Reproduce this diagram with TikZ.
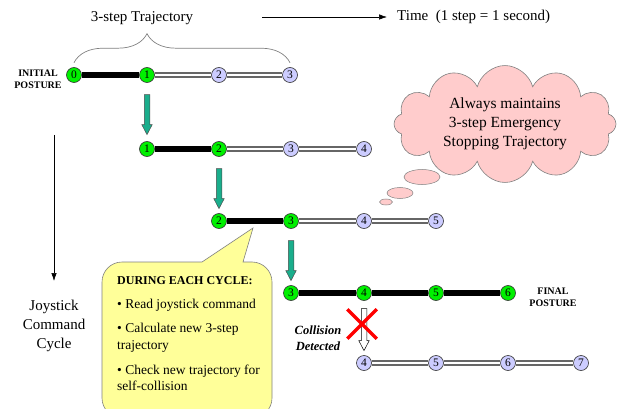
\documentclass[tikz,border=0pt]{standalone}
\usepackage{fontspec}
\setmainfont{Liberation Serif}
\usetikzlibrary{shapes.symbols,shapes.arrows,shapes.misc,shapes.geometric,decorations.pathreplacing,arrows.meta,backgrounds}
\definecolor{nodegreen}{HTML}{00F000}
\definecolor{lav}{HTML}{CCCCFF}
\definecolor{tealarrow}{HTML}{1AAE8C}
\definecolor{cloudpink}{HTML}{FFCCCC}
\definecolor{calloutyellow}{HTML}{FFFF99}
\begin{document}
\begin{tikzpicture}[x=1pt,y=-1pt,
  pt/.style={circle, draw=black!80, line width=0.6pt, minimum size=15pt, inner sep=0pt, font=\fontsize{11.5}{12}\selectfont},
  done/.style={pt, fill=nodegreen},
  plan/.style={pt, fill=lav},
  hardline/.style={line width=5.5pt, black},
  planline/.style={draw=white, line width=2.8pt, preaction={draw=black!60, line width=5.4pt}},
  stepdown/.style={single arrow, draw=black!70, line width=0.5pt, fill=tealarrow, rotate=-90, minimum height=40pt, inner sep=2.5pt, single arrow head extend=2.5pt, single arrow tip angle=55},
  thin arrow/.style={line width=0.6pt, -{Latex[length=8pt,width=5.5pt]}},
  bigtext/.style={font=\fontsize{15}{19}\selectfont},
  posture/.style={align=center, font=\bfseries\fontsize{10}{12}\selectfont},
  bubble/.style={ellipse, draw=gray, line width=0.5pt, fill=cloudpink, inner sep=0pt},
  calltext/.style={anchor=base west, inner sep=0pt, font=\fontsize{13.5}{17}\selectfont}
]
\clip (0,0) rectangle (621,409);

% ---- trajectory nodes
\node[done] (r1n0) at (74,75) {0};
\node[done] (r1n1) at (147,75) {1};
\node[plan] (r1n2) at (219,75) {2};
\node[plan] (r1n3) at (290,75) {3};

\node[done] (r2n1) at (147,149) {1};
\node[done] (r2n2) at (219,149) {2};
\node[plan] (r2n3) at (291,149) {3};
\node[plan] (r2n4) at (364,149) {4};

\node[done] (r3n2) at (219,221) {2};
\node[done] (r3n3) at (291,221) {3};
\node[plan] (r3n4) at (364,221) {4};
\node[plan] (r3n5) at (436,221) {5};

\node[done] (r4n3) at (291,293) {3};
\node[done] (r4n4) at (364,293) {4};
\node[done] (r4n5) at (436,293) {5};
\node[done] (r4n6) at (508,293) {6};

\node[plan] (r5n4) at (364,363) {4};
\node[plan] (r5n5) at (436,363) {5};
\node[plan] (r5n6) at (508,363) {6};
\node[plan] (r5n7) at (581,363) {7};

\begin{scope}[on background layer]
  \draw[hardline] (r1n0) -- (r1n1);
  \draw[planline] (r1n1) -- (r1n2);
  \draw[planline] (r1n2) -- (r1n3);
  \draw[hardline] (r2n1) -- (r2n2);
  \draw[planline] (r2n2) -- (r2n3);
  \draw[planline] (r2n3) -- (r2n4);
  \draw[hardline] (r3n2) -- (r3n3);
  \draw[planline] (r3n3) -- (r3n4);
  \draw[planline] (r3n4) -- (r3n5);
  \draw[hardline] (r4n3) -- (r4n4);
  \draw[hardline] (r4n4) -- (r4n5);
  \draw[hardline] (r4n5) -- (r4n6);
  \draw[planline] (r5n4) -- (r5n5);
  \draw[planline] (r5n5) -- (r5n6);
  \draw[planline] (r5n6) -- (r5n7);
\end{scope}

% ---- step arrows
\node[stepdown] (a1) at (147,112) {};
\node[stepdown] (a2) at (219,186) {};
\node[stepdown] (a3) at (291,258) {};
\node[stepdown, fill=white, draw=black, minimum height=42pt] (a4) at (364,327) {};
\node[cross out, draw=red, line width=3.5pt, minimum size=26pt, inner sep=0pt] (xmark) at (362,324) {};

% ---- labels
\node[posture] (initp) at (38,79) {INITIAL\\POSTURE};
\node[posture] (finalp) at (553,297) {FINAL\\POSTURE};
\node[align=center, font=\bfseries\itshape\fontsize{12.5}{16}\selectfont] (coll) at (318,338) {Collision\\Detected};

\node[bigtext] (traj) at (142,18) {3-step Trajectory};
\draw[gray, line width=0.7pt, decorate, decoration={brace, amplitude=29pt, aspect=0.338}]
  ([yshift=4.5pt]r1n0.north) -- ([yshift=4.5pt]r1n3.north);

\node[bigtext, anchor=west, inner sep=0pt] (time) at (397,17) {Time~~(1 step = 1 second)};
\coordinate (tstart) at (262,17);
\draw[thin arrow] (tstart) -- ([xshift=-10pt]time.west);

\coordinate (cyctop) at (54,135);
\coordinate (cycbot) at (54,281);
\draw[thin arrow] (cyctop) -- (cycbot);
\node[bigtext, align=center] (cyc) at (54,326) {Joystick\\Command\\Cycle};

% ---- thought cloud
\node[cloud, cloud puffs=12, cloud ignores aspect, draw=gray, line width=0.6pt, fill=cloudpink,
      minimum width=222pt, minimum height=106pt, align=center, font=\fontsize{15.5}{19}\selectfont] (cloud) at (505,124)
      {Always maintains\\3-step Emergency\\Stopping Trajectory};
\node[bubble, minimum width=36pt, minimum height=15pt] (b1) at (422,177) {};
\node[bubble, minimum width=26pt, minimum height=11pt] (b2) at (400,193) {};
\node[bubble, minimum width=13pt, minimum height=6pt] (b3) at (386,202) {};

% ---- callout
\filldraw[draw=gray, line width=0.6pt, fill=calloutyellow]
  (253,228) -- (243,262) -- (252,262) [rounded corners=20pt] -- (272,262) -- (272,418)
  -- (102,418) -- (102,262) -- (182,262) [sharp corners] -- (202,262) -- cycle;
\node[calltext, font=\bfseries\fontsize{12}{14}\selectfont] (c0) at (117,284) {DURING EACH CYCLE:};
\node[calltext] (c1) at (117,308) {• Read joystick command};
\node[calltext] (c2) at (117,332) {• Calculate new 3-step};
\node[calltext] (c3) at (117,349) {trajectory};
\node[calltext] (c4) at (117,374) {• Check new trajectory for};
\node[calltext] (c5) at (117,390) {self-collision};
\end{tikzpicture}
\end{document}
